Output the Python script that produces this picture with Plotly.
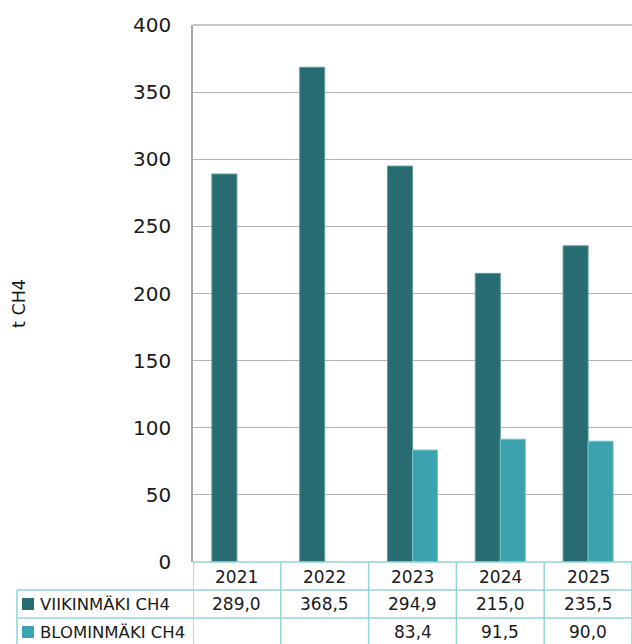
import plotly.graph_objects as go

years = ["2021", "2022", "2023", "2024", "2025"]
viikinmaki = [289.0, 368.5, 294.9, 215.0, 235.5]
blominmaki = [None, None, 83.4, 91.5, 90.0]
series_names = ["VIIKINMÄKI CH4", "BLOMINMÄKI CH4"]
y_ticks = [0, 50, 100, 150, 200, 250, 300, 350, 400]

DARK = "#266c71"
LIGHT = "#3aa3ad"
GRID = "#b3b3b3"
TLINE = "#93d5d6"
FONT = "DejaVu Sans"
TXT = "#1a1a1a"

W, H = 632, 644
L, R, T, B = 193, 0, 25, 82
PW, PH = W - L - R, H - T - B

def px(x):
    return (x - L) / PW

def py(y):
    return (H - B - y) / PH

xs = list(range(len(years)))
fig = go.Figure()
fig.add_trace(go.Bar(x=xs, y=viikinmaki, name=series_names[0], marker_color=DARK,
                     marker_line=dict(color="#5f9a9d", width=1)))
fig.add_trace(go.Bar(x=xs, y=blominmaki, name=series_names[1], marker_color=LIGHT,
                     marker_line=dict(color="#7cc3c9", width=1)))

shapes = []
anns = []
row_y = [562, 590, 618, 646]
# horizontal table lines
shapes.append(dict(type="line", xref="paper", yref="paper", x0=0, x1=1, y0=py(562), y1=py(562),
                   line=dict(color=TLINE, width=1.5)))
for yy in (590, 618):
    shapes.append(dict(type="line", xref="paper", yref="paper", x0=px(17), x1=1, y0=py(yy), y1=py(yy),
                       line=dict(color=TLINE, width=1.5)))
# vertical table lines at category boundaries
for i in range(len(years) + 1):
    shapes.append(dict(type="line", xref="x", yref="paper", x0=i - 0.5, x1=i - 0.5,
                       y0=py(562), y1=py(650), line=dict(color=TLINE, width=1.5)))
shapes.append(dict(type="line", xref="paper", yref="paper", x0=px(17), x1=px(17),
                   y0=py(590), y1=py(650), line=dict(color=TLINE, width=1.5)))

# years row
for i, yv in enumerate(years):
    anns.append(dict(x=i, y=py(577), xref="x", yref="paper", text=yv, showarrow=False,
                     xanchor="center", yanchor="middle",
                     font=dict(size=17, color=TXT, family=FONT)))
# data rows
for r, (vals, name, col) in enumerate([(viikinmaki, series_names[0], DARK),
                                        (blominmaki, series_names[1], LIGHT)]):
    cy = (row_y[r + 1] + row_y[r + 2]) / 2
    for i, v in enumerate(vals):
        if v is None:
            continue
        anns.append(dict(x=i, y=py(cy), xref="x", yref="paper",
                         text=f"{v:.1f}".replace(".", ","), showarrow=False,
                         xanchor="center", yanchor="middle",
                         font=dict(size=17, color=TXT, family=FONT)))
    shapes.append(dict(type="rect", xref="paper", yref="paper", x0=px(22), x1=px(34),
                       y0=py(cy + 6), y1=py(cy - 6), fillcolor=col, line=dict(width=0)))
    anns.append(dict(x=px(38), y=py(cy), xref="paper", yref="paper", text=name, showarrow=False,
                     xanchor="left", yanchor="middle",
                     font=dict(size=16.5, color=TXT, family=FONT)))

# y-axis title
anns.append(dict(x=px(19), y=py(304), xref="paper", yref="paper", text="t CH4", showarrow=False,
                 xanchor="center", yanchor="middle", textangle=-90,
                 font=dict(size=17.5, color=TXT, family=FONT)))

fig.update_layout(
    width=W, height=H,
    margin=dict(l=L, r=R, t=T, b=B, pad=0),
    paper_bgcolor="white", plot_bgcolor="white",
    barmode="group", bargap=0.43, bargroupgap=0,
    showlegend=False,
    shapes=shapes, annotations=anns,
    font=dict(family=FONT, color=TXT),
    xaxis=dict(range=[-0.5, len(years) - 0.5], showticklabels=False, showgrid=False,
               zeroline=False, showline=False, ticks="", fixedrange=True),
    yaxis=dict(range=[0, 400], tickvals=y_ticks, showgrid=True, gridcolor=GRID, gridwidth=1,
               zeroline=False, showline=True, linecolor="#a6a6a6", linewidth=1.5,
               ticks="", ticklabelstandoff=16, tickfont=dict(size=20, color=TXT, family=FONT)),
)
fig.add_shape(type="line", xref="paper", yref="paper", x0=0, x1=1, y0=1, y1=1,
              line=dict(color=GRID, width=1.5))
fig.write_html("out.html")
